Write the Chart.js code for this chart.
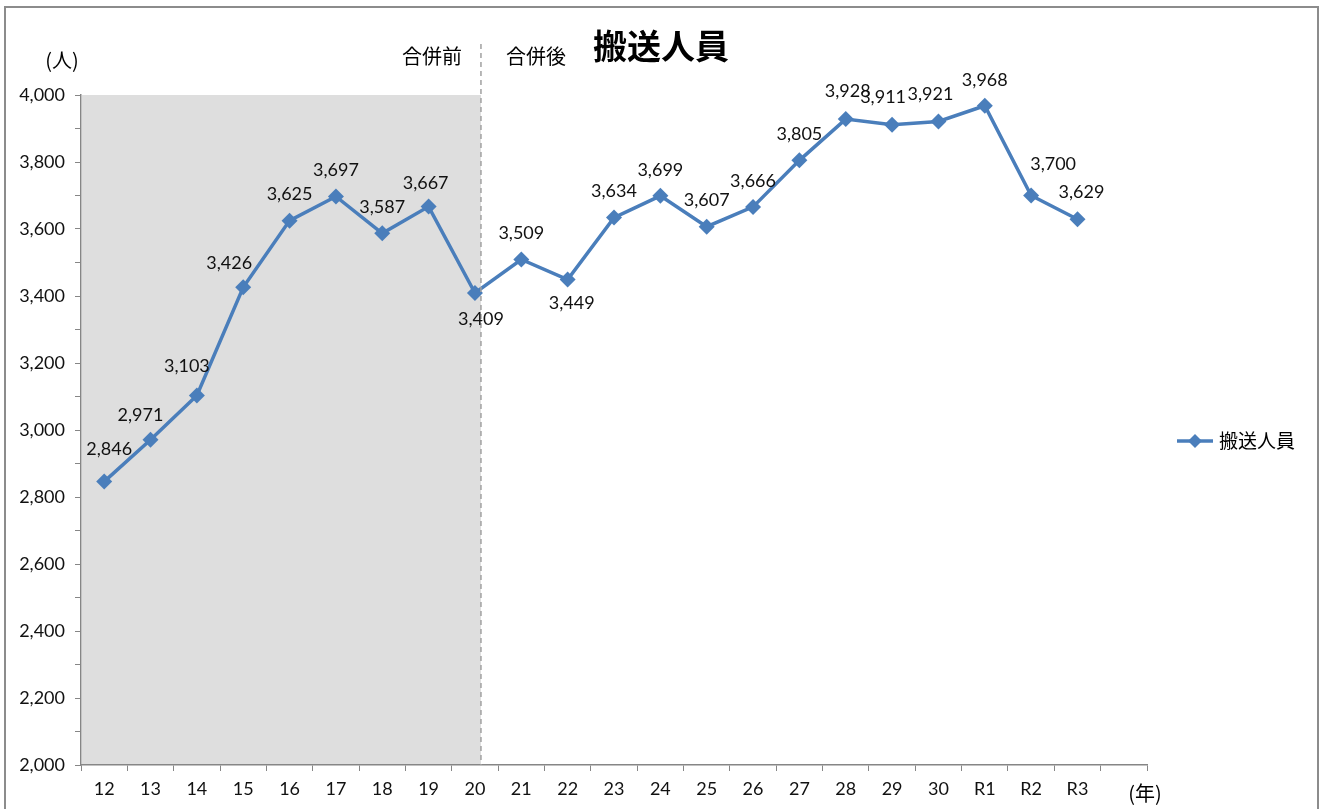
<!DOCTYPE html>
<html>
<head>
<meta charset="utf-8">
<script src="https://cdn.jsdelivr.net/npm/chart.js@4"></script>
<style>
  html, body { margin: 0; padding: 0; background: #fff; }
  #wrap { width: 1327px; height: 809px; }
</style>
</head>
<body>
<div id="wrap"><canvas id="chart" width="1327" height="809"></canvas></div>
<script>
const years = ['12', '13', '14', '15', '16', '17', '18', '19', '20', '21', '22',
  '23', '24', '25', '26', '27', '28', '29', '30', 'R1', 'R2', 'R3', '']
const transported = [2846, 2971, 3103, 3426, 3625, 3697, 3587, 3667, 3409, 3509, 3449,
  3634, 3699, 3607, 3666, 3805, 3928, 3911, 3921, 3968, 3700, 3629]
const mergeIndex = 8 // 20年 = 合併

const BLUE = '#4a7ebb'
const AXIS = '#868686'
const NUM_FONT = 'Lato, "Noto Sans", sans-serif'
const JP_FONT = '"Noto Sans CJK JP", sans-serif'

// label nudges [dx, dy] from the point; default is above
const labelNudge = {
  0: [5, -32], 1: [-10, -25], 2: [-10, -29], 3: [-14, -24],
  7: [-3, -23], 8: [6, 26], 10: [4, 24], 16: [2, -28], 18: [-8, -27], 17: [-9, -28],
  20: [22, -31], 21: [4, -27]
}

const decorations = {
  id: 'decorations',
  beforeDraw(chart) {
    const { ctx, chartArea: a, scales: { x } } = chart
    const mx = x.getPixelForValue(mergeIndex) + 6
    ctx.save()
    ctx.fillStyle = '#dedede'
    ctx.fillRect(a.left + 1, a.top, mx - a.left - 1, a.bottom - a.top)
    ctx.restore()
  },
  afterDatasetsDraw(chart) {
    const { ctx, chartArea: a, scales: { x } } = chart
    const meta = chart.getDatasetMeta(0)
    const mx = x.getPixelForValue(mergeIndex) + 6
    ctx.save()

    // dashed merge line
    ctx.strokeStyle = '#a0a0a0'
    ctx.lineWidth = 1.5
    ctx.setLineDash([5, 4])
    ctx.beginPath()
    ctx.moveTo(mx, 44)
    ctx.lineTo(mx, a.bottom)
    ctx.stroke()
    ctx.setLineDash([])

    // frame
    ctx.strokeStyle = '#8c8c8c'
    ctx.lineWidth = 2
    ctx.beginPath()
    ctx.moveTo(5, 809)
    ctx.lineTo(5, 7)
    ctx.lineTo(1318, 7)
    ctx.lineTo(1318, 809)
    ctx.stroke()

    // value labels
    ctx.fillStyle = '#111'
    ctx.font = '18px ' + NUM_FONT
    ctx.textAlign = 'center'
    ctx.textBaseline = 'middle'
    meta.data.forEach((pt, i) => {
      const [dx, dy] = labelNudge[i] || [0, -26]
      ctx.fillText(transported[i].toLocaleString('en-US'), pt.x + dx, pt.y + dy)
    })

    // texts
    ctx.fillStyle = '#000'
    ctx.font = '20px ' + JP_FONT
    ctx.fillText('合併前', 432, 56)
    ctx.fillText('合併後', 536, 56)
    ctx.fillText('(人)', 62, 60)
    ctx.fillText('(年)', 1145, 793)
    ctx.font = 'bold 34px ' + JP_FONT
    ctx.fillText('搬送人員', 661, 46)

    // legend
    ctx.strokeStyle = BLUE
    ctx.lineWidth = 3.5
    ctx.beginPath()
    ctx.moveTo(1177, 441)
    ctx.lineTo(1213, 441)
    ctx.stroke()
    ctx.fillStyle = BLUE
    ctx.beginPath()
    ctx.moveTo(1195, 434)
    ctx.lineTo(1202, 441)
    ctx.lineTo(1195, 448)
    ctx.lineTo(1188, 441)
    ctx.closePath()
    ctx.fill()
    ctx.fillStyle = '#000'
    ctx.textAlign = 'left'
    ctx.font = '19px ' + JP_FONT
    ctx.fillText('搬送人員', 1219, 441)
    ctx.restore()
  }
}

new Chart(document.getElementById('chart'), {
  type: 'line',
  data: {
    labels: years,
    datasets: [{
      label: '搬送人員',
      data: transported,
      borderColor: BLUE,
      backgroundColor: BLUE,
      borderWidth: 3.5,
      tension: 0,
      pointStyle: 'rectRot',
      pointRadius: 8,
      pointHoverRadius: 8,
      pointBorderWidth: 0
    }]
  },
  options: {
    responsive: false,
    devicePixelRatio: 1,
    animation: false,
    layout: { padding: { top: 95, right: 180, bottom: 0, left: 1 } },
    plugins: { legend: { display: false }, tooltip: { enabled: false } },
    scales: {
      x: {
        offset: true,
        grid: { offset: true, drawOnChartArea: false, drawTicks: true, tickLength: 6, color: AXIS },
        border: { display: true, color: AXIS, width: 1.5 },
        ticks: { color: '#111', font: { size: 18, family: NUM_FONT }, padding: 7, maxRotation: 0, autoSkip: false },
        afterFit(scale) { scale.height = 44 }
      },
      y: {
        min: 2000,
        max: 4000,
        grid: { drawOnChartArea: false, drawTicks: true, tickLength: 6, color: AXIS },
        border: { display: true, color: AXIS, width: 1.5 },
        ticks: {
          stepSize: 100,
          autoSkip: false,
          color: '#111',
          font: { size: 18, family: NUM_FONT },
          padding: 10,
          callback: v => v % 200 === 0 ? v.toLocaleString('en-US') : ''
        },
        afterFit(scale) { scale.width = 80 }
      }
    }
  },
  plugins: [decorations]
})
</script>
</body>
</html>
